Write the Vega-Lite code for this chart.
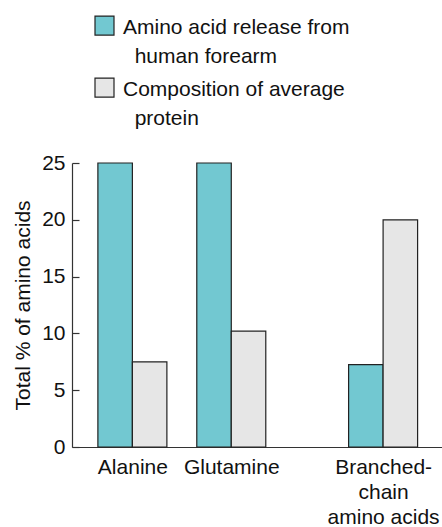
{
  "$schema": "https://vega.github.io/schema/vega-lite/v6.json",
  "width": 370,
  "height": 284,
  "autosize": {"type": "none"},
  "padding": {"left": 72, "top": 163, "right": 0, "bottom": 80},
  "background": "white",
  "config": {
    "view": {"stroke": null},
    "font": "Liberation Sans",
    "style": {"guide-label": {"lineHeight": 28.5}}
  },
  "data": {
    "values": [
      {"amino": "Alanine", "pos": 1, "series": "Amino acid release from human forearm", "value": 25},
      {"amino": "Alanine", "pos": 1, "series": "Composition of average protein", "value": 7.5},
      {"amino": "Glutamine", "pos": 2, "series": "Amino acid release from human forearm", "value": 25},
      {"amino": "Glutamine", "pos": 2, "series": "Composition of average protein", "value": 10.2},
      {"amino": "Branched-chain amino acids", "pos": 3.535, "series": "Amino acid release from human forearm", "value": 7.25},
      {"amino": "Branched-chain amino acids", "pos": 3.535, "series": "Composition of average protein", "value": 20}
    ]
  },
  "encoding": {
    "x": {
      "field": "pos",
      "type": "quantitative",
      "scale": {"domain": [0.44, 4.08], "nice": false, "zero": false},
      "axis": {
        "title": null,
        "values": [1, 2, 3.535],
        "labelExpr": "datum.value == 1 ? 'Alanine' : datum.value == 2 ? 'Glutamine' : ['Branched-', 'chain', 'amino acids']",
        "ticks": false,
        "grid": false,
        "domainColor": "#333333",
        "domainWidth": 1.2,
        "labelFontSize": 21,
        "labelColor": "#111111",
        "labelPadding": 9,
        "labelLineHeight": 25.3,
        "labelFlush": false,
        "labelOverlap": false
      }
    },
    "y": {
      "field": "value",
      "type": "quantitative",
      "scale": {"domain": [0, 25], "nice": false},
      "axis": {
        "title": "Total % of amino acids",
        "titleFontSize": 21,
        "titleFontWeight": "normal",
        "titleColor": "#111111",
        "titlePadding": 8,
        "values": [0, 5, 10, 15, 20, 25],
        "grid": false,
        "tickSize": -7,
        "tickColor": "#333333",
        "tickWidth": 1.2,
        "domainColor": "#333333",
        "domainWidth": 1.2,
        "labelFontSize": 21,
        "labelColor": "#111111",
        "labelPadding": 14
      }
    },
    "color": {
      "field": "series",
      "type": "nominal",
      "scale": {
        "domain": ["Amino acid release from human forearm", "Composition of average protein"],
        "range": ["#72C8D1", "#E6E6E6"]
      },
      "legend": {
        "title": null,
        "orient": "none",
        "legendX": 22,
        "legendY": -156.5,
        "direction": "vertical",
        "symbolType": "M-1,-0.1L1,-0.1L1,1.9L-1,1.9Z",
        "symbolSize": 361,
        "symbolStrokeColor": "#222222",
        "symbolStrokeWidth": 1.2,
        "symbolOpacity": 1,
        "labelFontSize": 21,
        "labelColor": "#111111",
        "labelOffset": 8,
        "labelLimit": 400,
        "labelBaseline": "top",
        "rowPadding": 2,
        "labelExpr": "datum.label == 'Amino acid release from human forearm' ? ['Amino acid release from', '\u200b\u00a0\u00a0human forearm'] : ['Composition of average', '\u200b\u00a0\u00a0protein']"
      }
    }
  },
  "layer": [
    {
      "transform": [{"filter": "datum.series == 'Amino acid release from human forearm'"}],
      "mark": {"type": "bar", "width": 34.5, "xOffset": -17.25, "stroke": "#222222", "strokeWidth": 1.2, "opacity": 1}
    },
    {
      "transform": [{"filter": "datum.series == 'Composition of average protein'"}],
      "mark": {"type": "bar", "width": 34.5, "xOffset": 17.25, "stroke": "#222222", "strokeWidth": 1.2, "opacity": 1}
    }
  ]
}
